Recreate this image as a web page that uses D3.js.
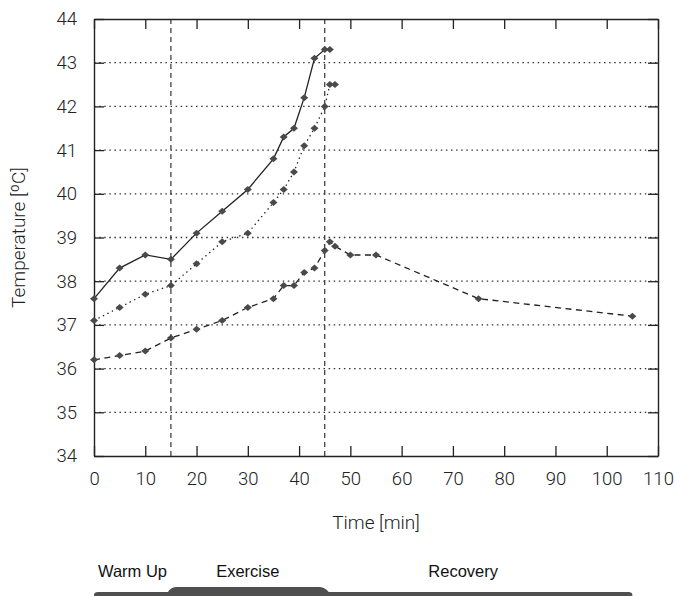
<!DOCTYPE html>
<html>
<head>
<meta charset="utf-8">
<script src="https://cdn.jsdelivr.net/npm/d3@7"></script>
<style>
  html, body { margin: 0; padding: 0; background: #fff; }
  svg { display: block; }
  .num { font-family: "Roboto", "Liberation Sans", sans-serif; font-weight: 300; fill: #222; }
  .phase { font-family: "Liberation Sans", Arial, sans-serif; fill: #111; }
</style>
</head>
<body>
<svg id="chart" width="676" height="596"></svg>
<script>
// ---- data ----
const timeA = [0, 5, 10, 15, 20, 25, 30, 35, 37, 39, 41, 43, 45, 46];
const tempA = [37.6, 38.3, 38.6, 38.5, 39.1, 39.6, 40.1, 40.8, 41.3, 41.5, 42.2, 43.1, 43.3, 43.3];

const timeB = [0, 5, 10, 15, 20, 25, 30, 35, 37, 39, 41, 43, 45, 46, 47];
const tempB = [37.1, 37.4, 37.7, 37.9, 38.4, 38.9, 39.1, 39.8, 40.1, 40.5, 41.1, 41.5, 42.0, 42.5, 42.5];

const timeC = [0, 5, 10, 15, 20, 25, 30, 35, 37, 39, 41, 43, 45, 46, 47, 50, 55, 75, 105];
const tempC = [36.2, 36.3, 36.4, 36.7, 36.9, 37.1, 37.4, 37.6, 37.9, 37.9, 38.2, 38.3, 38.7, 38.9, 38.8, 38.6, 38.6, 37.6, 37.2];

const xTicks = [0, 10, 20, 30, 40, 50, 60, 70, 80, 90, 100, 110];
const yTicks = [34, 35, 36, 37, 38, 39, 40, 41, 42, 43, 44];
const phaseMarks = [15, 45];

const phaseLabels = ["Warm Up", "Exercise", "Recovery"];
const phaseLabelAt = [7.5, 30, 72];
const phaseStart = [0, 15, 45];
const phaseEnd = [15, 45, 105];

const xTitle = "Time [min]";
const yTitle = "Temperature [ºC]";

// ---- layout ----
const svg = d3.select("#chart");
const L = 94, R = 658, T = 19, B = 456;
const x = d3.scaleLinear().domain([0, 110]).range([L, R]);
const y = d3.scaleLinear().domain([34, 44]).range([B, T]);

// horizontal dotted grid
svg.append("g").selectAll("line")
  .data(yTicks.filter(v => v > 34 && v < 44))
  .join("line")
  .attr("x1", L).attr("x2", R)
  .attr("y1", d => y(d)).attr("y2", d => y(d))
  .attr("stroke", "#333").attr("stroke-width", 1.3)
  .attr("stroke-dasharray", "1.5,3.6");

// vertical phase lines
svg.append("g").selectAll("line")
  .data(phaseMarks)
  .join("line")
  .attr("x1", d => x(d)).attr("x2", d => x(d))
  .attr("y1", T).attr("y2", B)
  .attr("stroke", "#333").attr("stroke-width", 1.2)
  .attr("stroke-dasharray", "5,4");

// axes with inward ticks
const tickLen = 10;
const axB = d3.axisBottom(x).tickValues(xTicks).tickSizeInner(-tickLen).tickSizeOuter(0).tickPadding(16);
const axT = d3.axisTop(x).tickValues(xTicks).tickSizeInner(-tickLen).tickSizeOuter(0).tickFormat("");
const axL = d3.axisLeft(y).tickValues(yTicks).tickSizeInner(-tickLen).tickSizeOuter(0).tickPadding(17);
const axR = d3.axisRight(y).tickValues(yTicks).tickSizeInner(-tickLen).tickSizeOuter(0).tickFormat("");

function style(g) {
  g.selectAll("path.domain").attr("stroke", "#222").attr("stroke-width", 1.4);
  g.selectAll(".tick line").attr("stroke", "#222").attr("stroke-width", 1.3);
  g.selectAll(".tick text").attr("class", "num").attr("font-size", 18.5).attr("fill", "#222");
}
svg.append("g").attr("transform", `translate(0,${B})`).call(axB).call(style);
svg.append("g").attr("transform", `translate(0,${T})`).call(axT).call(style);
svg.append("g").attr("transform", `translate(${L},0)`).call(axL).call(style);
svg.append("g").attr("transform", `translate(${R},0)`).call(axR).call(style);

// axis titles
svg.append("text").attr("class", "num")
  .attr("x", (L + R) / 2).attr("y", 529)
  .attr("text-anchor", "middle").attr("font-size", 19)
  .text(xTitle);
svg.append("text").attr("class", "num")
  .attr("transform", `translate(25,${(T + B) / 2}) rotate(-90)`)
  .attr("text-anchor", "middle").attr("font-size", 19)
  .text(yTitle);

// series
const series = [
  { t: timeA, v: tempA, dash: null },
  { t: timeB, v: tempB, dash: "1.4,3.6" },
  { t: timeC, v: tempC, dash: "6,4.5" }
];
const line = d3.line().x(d => x(d[0])).y(d => y(d[1]));
const diamond = (cx, cy) => `M${cx - 4},${cy}L${cx},${cy - 3.5}L${cx + 4},${cy}L${cx},${cy + 3.5}Z`;

series.forEach(s => {
  const pts = s.t.map((t, i) => [t, s.v[i]]);
  svg.append("path").datum(pts)
    .attr("d", line)
    .attr("fill", "none").attr("stroke", "#222").attr("stroke-width", 1.3)
    .attr("stroke-dasharray", s.dash);
  svg.append("g").selectAll("path")
    .data(pts).join("path")
    .attr("d", d => diamond(x(d[0]), y(d[1])))
    .attr("fill", "#4a4a4a");
});

// phase labels
svg.append("g").selectAll("text")
  .data(phaseLabels).join("text")
  .attr("class", "phase")
  .attr("x", (d, i) => x(phaseLabelAt[i]))
  .attr("y", 577)
  .attr("text-anchor", "middle").attr("font-size", 16.5)
  .text(d => d);

// phase bar
const baseTop = 592, raisedTop = 587, barBot = 600;
const x0 = x(phaseStart[0]), x1 = x(phaseStart[1]), x2 = x(phaseEnd[1]), x3 = x(phaseEnd[2]);
const bar = d3.path();
bar.moveTo(x0, barBot);
bar.lineTo(x0, baseTop + 3);
bar.quadraticCurveTo(x0, baseTop, x0 + 4, baseTop);
bar.lineTo(x1 - 3, baseTop);
bar.quadraticCurveTo(x1, raisedTop, x1 + 6, raisedTop);
bar.lineTo(x2 - 6, raisedTop);
bar.quadraticCurveTo(x2, raisedTop, x2 + 4, baseTop);
bar.lineTo(x3 - 4, baseTop);
bar.quadraticCurveTo(x3, baseTop, x3, baseTop + 3);
bar.lineTo(x3, barBot);
bar.closePath();
svg.append("path").attr("d", bar.toString()).attr("fill", "#4f4f4f");
</script>
</body>
</html>
